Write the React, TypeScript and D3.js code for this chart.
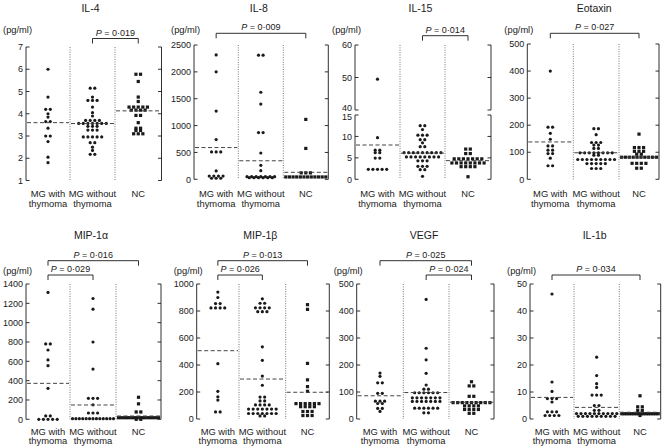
import React from "react";
import * as d3 from "d3";

// ---------- DATA ----------
const groupLabels = [["MG with", "thymoma"], ["MG without", "thymoma"], ["NC"]];

const il4Ticks = [1, 2, 3, 4, 5, 6, 7];
const il4Thymoma = [6.0, 4.75, 4.2, 4.2, 4.0, 3.85, 3.65, 3.65, 3.35, 3.0, 3.0, 2.75, 2.05, 1.8];
const il4NoThymoma = [5.2, 5.1, 4.75, 4.6, 4.6, 4.6, 4.3, 4.05, 3.9, 3.75, 3.75, 3.65, 3.65, 3.6, 3.6, 3.6, 3.55, 3.55, 3.55, 3.5, 3.45, 3.45, 3.4, 3.3, 3.25, 3.25, 3.0, 3.0, 3.0, 2.9, 2.9, 2.7, 2.7, 2.5, 2.35, 2.2, 2.15];
const il4NC = [5.8, 5.75, 5.45, 4.75, 4.55, 4.35, 4.3, 4.3, 4.3, 4.25, 4.2, 4.2, 4.15, 4.1, 3.95, 3.9, 3.6, 3.4, 3.3, 3.25, 3.25, 3.1, 3.1, 3.1];
const il4Means = [3.6, 3.56, 4.13];

const il8Ticks = [0, 500, 1000, 1500, 2000, 2500];
const il8Thymoma = [2315, 2000, 1270, 740, 515, 510, 505, 155, 80, 40, 20, 20, 20, 40, 80];
const il8NoThymoma = [2310, 2310, 1620, 1400, 890, 850, 490, 260, 160, 90, 50, 40, 35, 30, 30, 30, 30, 30, 30, 35, 40, 50];
const il8NC = [1115, 575, 125, 120, 115, 60, 55, 50, 50, 45, 45, 40, 40, 40, 35, 35, 30];
const il8Means = [591, 345, 130];

const il15LowTicks = [0, 5, 10, 15];
const il15HighTicks = [40, 50, 60];
const il15Thymoma = [49.5, 9.7, 7.1, 6.5, 6.3, 6.1, 5.0, 4.9, 2.6, 2.2, 2.1, 2.1, 2.6];
const il15NoThymoma = [12.6, 12.4, 11.6, 10.3, 10.3, 10.3, 9.3, 9.2, 8.5, 7.6, 7.6, 6.5, 6.4, 6.3, 6.3, 6.2, 6.2, 6.1, 6.0, 6.0, 5.4, 5.3, 5.3, 5.2, 5.2, 5.2, 5.1, 5.1, 4.4, 4.3, 4.2, 3.3, 3.2, 2.6, 2.5, 2.0, 0.7];
const il15NC = [7.2, 6.9, 6.1, 5.9, 5.2, 5.1, 4.8, 4.7, 4.6, 4.5, 4.5, 4.1, 4.0, 4.0, 3.9, 3.9, 3.8, 3.4, 3.4, 3.3, 3.2, 2.7, 2.6, 0.6];
const il15Means = [8.0, 6.1, 4.35];

const eotaxinTicks = [0, 100, 200, 300, 400, 500];
const eotaxinThymoma = [400, 197, 188, 170, 148, 125, 122, 112, 103, 100, 90, 78, 50, 50];
const eotaxinNoThymoma = [188, 186, 165, 140, 138, 130, 128, 125, 115, 113, 103, 102, 100, 100, 96, 95, 94, 92, 90, 88, 76, 75, 74, 74, 73, 72, 72, 72, 70, 60, 59, 58, 57, 56, 42, 40, 38];
const eotaxinNC = [167, 122, 118, 112, 110, 100, 100, 98, 88, 86, 85, 85, 82, 80, 80, 78, 78, 80, 82, 60, 60, 58, 58, 42, 40];
const eotaxinMeans = [138, 98, 82];

const mip1aTicks = [0, 200, 400, 600, 800, 1000, 1200, 1400];
const mip1aThymoma = [1313, 790, 770, 717, 614, 555, 320, 40, 30, 0, 0, 0, 0, 0];
const mip1aNoThymoma = [1250, 1140, 800, 520, 225, 215, 210, 150, 70, 70, 55, 30, 25, 20, 10, 5, 0, 0, 0, 0, 0, 0, 0, 0];
const mip1aNC = [228, 160, 90, 62, 35, 30, 30, 25, 25, 20, 20, 15, 15, 10, 10, 10, 5, 5, 5, 5, 0, 0];
const mip1aMeans = [372, 148, 34];

const mip1bTicks = [0, 200, 400, 600, 800, 1000];
const mip1bThymoma = [940, 900, 860, 850, 835, 820, 820, 815, 410, 205, 165, 140, 55, 50];
const mip1bNoThymoma = [890, 860, 855, 830, 825, 820, 818, 800, 795, 790, 535, 435, 318, 250, 165, 160, 140, 128, 110, 108, 105, 95, 85, 80, 75, 72, 70, 68, 65, 50, 48, 45, 40, 38, 35, 30, 25, 20];
const mip1bNC = [847, 812, 412, 290, 240, 205, 120, 118, 115, 112, 110, 108, 95, 92, 90, 88, 60, 55, 52, 30, 25, 22];
const mip1bMeans = [506, 296, 198];

const vegfTicks = [0, 100, 200, 300, 400, 500];
const vegfThymoma = [170, 158, 138, 130, 97, 93, 70, 68, 60, 58, 57, 43, 35, 28];
const vegfNoThymoma = [443, 262, 219, 169, 126, 114, 107, 100, 98, 97, 97, 96, 95, 82, 80, 80, 79, 78, 76, 74, 70, 68, 66, 65, 64, 62, 60, 42, 41, 40, 40, 39, 38, 24, 22];
const vegfNC = [138, 125, 120, 85, 83, 65, 63, 62, 62, 61, 60, 60, 58, 55, 52, 50, 48, 45, 38, 36, 35, 32, 22, 20];
const vegfMeans = [86, 98, 62];

const il1bTicks = [0, 10, 20, 30, 40, 50];
const il1bThymoma = [46.3, 13.7, 10.2, 8.0, 7.5, 7.2, 6.3, 3.2, 2.6, 2.2, 1.7, 1.5, 1.0, 1.0];
const il1bNoThymoma = [22.9, 16.1, 13.1, 11.7, 9.4, 8.7, 8.5, 5.2, 4.8, 3.7, 2.7, 2.5, 2.3, 2.2, 2.1, 2.0, 2.0, 1.9, 1.8, 1.7, 1.5, 1.3, 1.2, 1.1, 1.0, 1.0, 1.0, 0.9, 0.8, 0.7];
const il1bNC = [8.6, 5.0, 4.0, 3.7, 2.6, 2.5, 2.4, 2.4, 2.3, 2.2, 2.1, 2.0, 2.0, 1.9, 1.8, 1.8, 1.7, 1.6, 1.5, 1.5, 1.4, 1.3];
const il1bMeans = [8.0, 4.3, 2.5];

// ---------- LAYOUT ----------
type Bracket = { from: number; to: number; p: string; lineY: number };
type Panel = {
  title: string;
  x0: number; d1: number; d2: number; x1: number;
  yTop: number; yBot: number;
  domain?: [number, number];
  ticks?: number[];
  groups: number[][];
  means: number[];
  brackets: Bracket[];
  titleY: number;
  unitY: number;
  labelY: number;
  labelGap: number;
  broken?: boolean;
};

const panels: Panel[] = [
  { title: "IL-4", x0: 26, d1: 70, d2: 115, x1: 161.5, yTop: 47, yBot: 180.5, domain: [1, 7], ticks: il4Ticks,
    groups: [il4Thymoma, il4NoThymoma, il4NC], means: il4Means,
    brackets: [{ from: 1, to: 2, p: "0·019", lineY: 38.5 }], titleY: 12, unitY: 33, labelY: 196.5, labelGap: 10.5 },
  { title: "IL-8", x0: 194, d1: 238.3, d2: 283.3, x1: 328.3, yTop: 45, yBot: 179.3, domain: [0, 2500], ticks: il8Ticks,
    groups: [il8Thymoma, il8NoThymoma, il8NC], means: il8Means,
    brackets: [{ from: 0, to: 2, p: "0·009", lineY: 33.3 }], titleY: 12, unitY: 33, labelY: 196.5, labelGap: 10.5 },
  { title: "IL-15", x0: 355, d1: 400, d2: 445, x1: 491, yTop: 45, yBot: 179.3, broken: true,
    groups: [il15Thymoma, il15NoThymoma, il15NC], means: il15Means,
    brackets: [{ from: 1, to: 2, p: "0·014", lineY: 35.7 }], titleY: 12, unitY: 33, labelY: 196.5, labelGap: 10.5 },
  { title: "Eotaxin", x0: 527.3, d1: 573.3, d2: 619, x1: 659, yTop: 44, yBot: 179.3, domain: [0, 500], ticks: eotaxinTicks,
    groups: [eotaxinThymoma, eotaxinNoThymoma, eotaxinNC], means: eotaxinMeans,
    brackets: [{ from: 0, to: 2, p: "0·027", lineY: 33.3 }], titleY: 12, unitY: 33, labelY: 196.5, labelGap: 10.5 },
  { title: "MIP-1α", x0: 26, d1: 70, d2: 116, x1: 161, yTop: 284, yBot: 419.3, domain: [0, 1400], ticks: mip1aTicks,
    groups: [mip1aThymoma, mip1aNoThymoma, mip1aNC], means: mip1aMeans,
    brackets: [{ from: 0, to: 2, p: "0·016", lineY: 260.7 }, { from: 0, to: 1, p: "0·029", lineY: 275 }],
    titleY: 239, unitY: 273.5, labelY: 434.5, labelGap: 9.5 },
  { title: "MIP-1β", x0: 196.7, d1: 239, d2: 285.7, x1: 329.3, yTop: 284, yBot: 419, domain: [0, 1000], ticks: mip1bTicks,
    groups: [mip1bThymoma, mip1bNoThymoma, mip1bNC], means: mip1bMeans,
    brackets: [{ from: 0, to: 2, p: "0·013", lineY: 260.7 }, { from: 0, to: 1, p: "0·026", lineY: 275 }],
    titleY: 239, unitY: 273.5, labelY: 434.5, labelGap: 9.5 },
  { title: "VEGF", x0: 356.7, d1: 403.3, d2: 449, x1: 494, yTop: 284, yBot: 419, domain: [0, 500], ticks: vegfTicks,
    groups: [vegfThymoma, vegfNoThymoma, vegfNC], means: vegfMeans,
    brackets: [{ from: 0, to: 2, p: "0·025", lineY: 260.7 }, { from: 1, to: 2, p: "0·024", lineY: 275 }],
    titleY: 239, unitY: 273.5, labelY: 434.5, labelGap: 9.5 },
  { title: "IL-1b", x0: 530, d1: 574, d2: 619.3, x1: 660.7, yTop: 284, yBot: 419, domain: [0, 50], ticks: il1bTicks,
    groups: [il1bThymoma, il1bNoThymoma, il1bNC], means: il1bMeans,
    brackets: [{ from: 0, to: 2, p: "0·034", lineY: 275 }], titleY: 239, unitY: 273.5, labelY: 434.5, labelGap: 9.5 },
];

const FONT = "'Liberation Sans', Arial, Helvetica, sans-serif";
const INK = "#1a1a1a";

// Dot-plot row layout: points whose pixel heights are within one dot size share a row,
// the row is centred on the group and drawn at the row's mean height.
function layoutRows(vals: number[], yFn: (v: number) => number, cx: number, width: number) {
  const pts = vals.map((v) => ({ v, y: yFn(v), x: cx })).sort((a, b) => a.y - b.y);
  const rows: { y0: number; items: typeof pts }[] = [];
  let cur: { y0: number; items: typeof pts } | null = null;
  for (const p of pts) {
    if (cur && p.y - cur.y0 < 3.2) cur.items.push(p);
    else { cur = { y0: p.y, items: [p] }; rows.push(cur); }
  }
  rows.forEach((r) => {
    const n = r.items.length;
    const s = n > 1 ? Math.min(4.6, (width - 5) / (n - 1)) : 0;
    const ym = d3.mean(r.items, (d) => d.y) as number;
    r.items.forEach((p, k) => { p.x = cx + (k - (n - 1) / 2) * s; p.y = ym; });
  });
  return pts;
}

function PanelView({ p }: { p: Panel }) {
  const bounds = [p.x0, p.d1, p.d2, p.x1];
  const centers = [0, 1, 2].map((i) => (bounds[i] + bounds[i + 1]) / 2);
  let yFn: (v: number) => number;
  const segments: { scale: d3.ScaleLinear<number, number>; ticks: number[] }[] = [];
  if (p.broken) {
    const lower = d3.scaleLinear().domain([0, 15]).range([p.yBot, 115]);
    const upper = d3.scaleLinear().domain([40, 60]).range([110, p.yTop]);
    yFn = (v) => (v >= 40 ? upper(v) : lower(v));
    segments.push({ scale: lower, ticks: il15LowTicks }, { scale: upper, ticks: il15HighTicks });
  } else {
    const s = d3.scaleLinear().domain(p.domain!).range([p.yBot, p.yTop]);
    yFn = (v) => s(v);
    segments.push({ scale: s, ticks: p.ticks! });
  }
  const tickLen = 3.5;
  const unitEnd = p.x0 + 6;
  const unitStart = unitEnd - 31;
  const nudge = (t: number, si: number) => {
    if (!p.broken) return 0;
    if (si === 1 && t === 40) return -2.2;
    if (si === 0 && t === 15) return 2.2;
    return 0;
  };
  return (
    <g>
      <text x={centers[1] - 2} y={p.titleY} textAnchor="middle" fontSize={10.5} fontFamily={FONT} fill={INK}>{p.title}</text>
      <text x={unitStart < 0 ? 0 : unitEnd} y={p.unitY} textAnchor={unitStart < 0 ? "start" : "end"} fontSize={9.3} fontFamily={FONT} fill={INK}>(pg/ml)</text>
      {segments.map((seg, si) => {
        const [r0, r1] = seg.scale.range();
        return (
          <g key={si}>
            <line x1={p.x0} x2={p.x0} y1={r0} y2={r1} stroke={INK} strokeWidth={0.9} />
            <line x1={p.x1} x2={p.x1} y1={r0} y2={r1} stroke={INK} strokeWidth={0.9} />
            {seg.ticks.map((t) => (
              <g key={t}>
                <line x1={p.x0} x2={p.x0 + tickLen} y1={seg.scale(t)} y2={seg.scale(t)} stroke={INK} strokeWidth={0.9} />
                <line x1={p.x1} x2={p.x1 - tickLen} y1={seg.scale(t)} y2={seg.scale(t)} stroke={INK} strokeWidth={0.9} />
                <text x={p.x0 - 3} y={seg.scale(t) + 3.2 + nudge(t, si)} textAnchor="end" fontSize={9} fontFamily={FONT} fill={INK}>{t}</text>
              </g>
            ))}
          </g>
        );
      })}
      {[p.d1, p.d2].map((x, i) => (
        <line key={i} x1={x} x2={x} y1={p.yTop} y2={p.yBot} stroke="#555" strokeWidth={0.8} strokeDasharray="1,1.4" />
      ))}
      {p.groups.map((vals, gi) => {
        const pts = layoutRows(vals, yFn, centers[gi], bounds[gi + 1] - bounds[gi]);
        return (
          <g key={gi}>
            {pts.map((pt, k) =>
              gi === 2 ? (
                <rect key={k} x={pt.x - 1.6} y={pt.y - 1.6} width={3.2} height={3.2} fill={INK} />
              ) : (
                <circle key={k} cx={pt.x} cy={pt.y} r={1.6} fill={INK} />
              )
            )}
          </g>
        );
      })}
      {p.means.map((m, gi) => (
        <line key={gi} x1={bounds[gi] + 1} x2={bounds[gi + 1] - 1} y1={yFn(m)} y2={yFn(m)} stroke="#444" strokeWidth={1} strokeDasharray="4,2.5" />
      ))}
      {p.brackets.map((b, bi) => {
        const xa = centers[b.from], xb = centers[b.to];
        return (
          <g key={bi}>
            <path d={`M${xa},${b.lineY + 5}V${b.lineY}H${xb}V${b.lineY + 5}`} fill="none" stroke={INK} strokeWidth={0.9} />
            <text x={(xa + xb) / 2} y={b.lineY - 3} textAnchor="middle" fontSize={9} fontFamily={FONT} fill={INK}>
              <tspan fontStyle="italic">P</tspan>{" = " + b.p}
            </text>
          </g>
        );
      })}
      {groupLabels.map((lines, gi) =>
        lines.map((ln, li) => (
          <text key={gi + "-" + li} x={centers[gi]} y={p.labelY + li * p.labelGap} textAnchor="middle" fontSize={9.4} fontFamily={FONT} fill={INK}>{ln}</text>
        ))
      )}
    </g>
  );
}

export default function App() {
  return (
    <svg width={667} height={447} viewBox="0 0 667 447" style={{ position: "absolute", left: 0, top: 0, background: "#fff" }}>
      <rect x={0} y={0} width={667} height={447} fill="#fff" />
      {panels.map((p, i) => (
        <PanelView key={i} p={p} />
      ))}
    </svg>
  );
}
